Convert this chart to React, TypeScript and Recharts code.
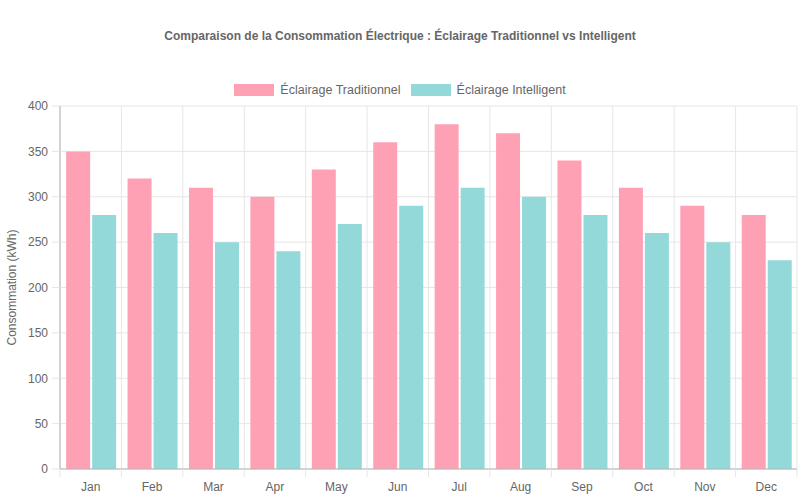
import React from 'react'
import { BarChart, Bar, XAxis, YAxis, CartesianGrid } from 'recharts'

const months = ['Jan', 'Feb', 'Mar', 'Apr', 'May', 'Jun', 'Jul', 'Aug', 'Sep', 'Oct', 'Nov', 'Dec']
const traditionnel = [350, 320, 310, 300, 330, 360, 380, 370, 340, 310, 290, 280]
const intelligent = [280, 260, 250, 240, 270, 290, 310, 300, 280, 260, 250, 230]
const yTicks = [0, 50, 100, 150, 200, 250, 300, 350, 400]
const seriesNames = ['Éclairage Traditionnel', 'Éclairage Intelligent']

const data = months.map((m, i) => ({ month: m, trad: traditionnel[i], smart: intelligent[i] }))

const W = 800
const H = 500
const M = { top: 106, right: 3, bottom: 0, left: 0 }
const Y_W = 60
const X_H = 31
const PLOT_W = W - M.left - M.right - Y_W
const STEP = PLOT_W / months.length

const C = { pink: '#ffa1b5', teal: '#93d9d9', grid: '#e6e6e6', axis: '#b3b3b3', text: '#666' }
const FONT = '"Liberation Sans", Arial, Helvetica, sans-serif'

function XTick(props: any) {
  const { x, y, payload, index } = props
  const left = x - STEP / 2
  return (
    <g>
      <line x1={left} x2={left} y1={y - 8} y2={y} stroke={C.grid} />
      {index === months.length - 1 && <line x1={x + STEP / 2} x2={x + STEP / 2} y1={y - 8} y2={y} stroke={C.grid} />}
      <text x={x} y={y + 14} textAnchor="middle" fill={C.text} fontSize={12} fontFamily={FONT}>
        {payload.value}
      </text>
    </g>
  )
}

function LegendBox() {
  const colors = [C.pink, C.teal]
  return (
    <div
      style={{
        position: 'absolute', top: 83, left: 0, width: W, display: 'flex', justifyContent: 'center', gap: 10,
        fontFamily: FONT, fontSize: 12.5, color: C.text, lineHeight: '14px',
      }}
    >
      {seriesNames.map((name, i) => (
        <div key={name} style={{ display: 'flex', alignItems: 'center' }}>
          <span style={{ width: 40, height: 12, background: colors[i], marginRight: 6, display: 'inline-block' }} />
          <span>{name}</span>
        </div>
      ))}
    </div>
  )
}

export default function App() {
  return (
    <div style={{ position: 'absolute', left: 0, top: 0, width: W, height: H, background: '#fff' }}>
      <div
        style={{
          position: 'absolute', top: 29, left: 0, width: W, textAlign: 'center',
          fontFamily: FONT, fontSize: 12, fontWeight: 'bold', color: C.text,
        }}
      >
        Comparaison de la Consommation Électrique : Éclairage Traditionnel vs Intelligent
      </div>
      <LegendBox />
      <BarChart width={W} height={H} data={data} margin={M} barCategoryGap="10%" barGap={2}>
        <CartesianGrid
          stroke={C.grid}
          verticalCoordinatesGenerator={({ offset }: any) =>
            months.map((_, i) => offset.left + i * (offset.width / months.length)).concat(offset.left + offset.width)
          }
        />
        <XAxis
          dataKey="month"
          height={X_H}
          stroke={C.axis}
          tickLine={false}
          tick={<XTick />}
          interval={0}
        />
        <YAxis
          width={Y_W}
          domain={[0, 400]}
          ticks={yTicks}
          stroke={C.axis}
          tickSize={8}
          tickMargin={4}
          tickLine={{ stroke: C.grid }}
          tick={{ fill: C.text, fontSize: 12, fontFamily: FONT }}
          label={{
            content: ({ viewBox }: any) => (
              <text
                x={16}
                y={viewBox.y + viewBox.height / 2}
                transform={`rotate(-90, 16, ${viewBox.y + viewBox.height / 2})`}
                textAnchor="middle"
                fill={C.text}
                fontSize={12}
                fontFamily={FONT}
              >
                Consommation (kWh)
              </text>
            ),
          }}
        />
        <Bar dataKey="trad" name={seriesNames[0]} fill={C.pink} isAnimationActive={false} />
        <Bar dataKey="smart" name={seriesNames[1]} fill={C.teal} isAnimationActive={false} />
      </BarChart>
    </div>
  )
}
